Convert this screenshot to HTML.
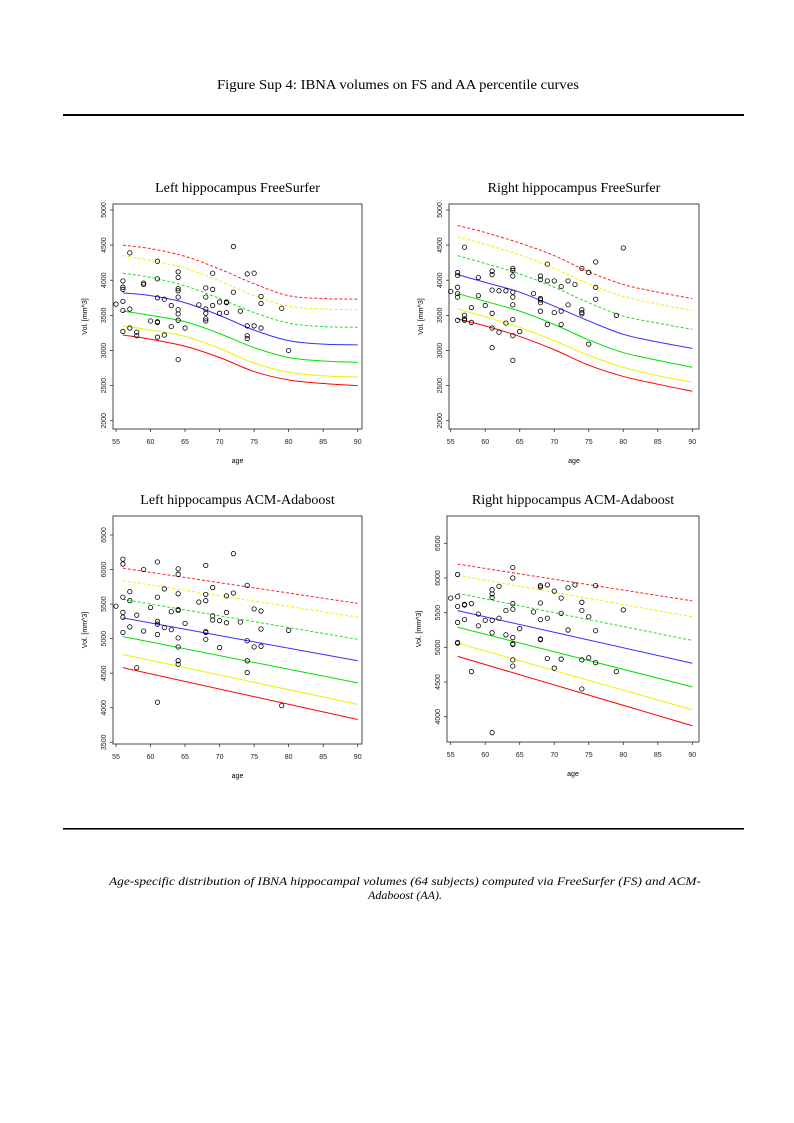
<!DOCTYPE html>
<html><head><meta charset="utf-8"><style>
html,body{margin:0;padding:0;background:#fff;}
svg{display:block;}
.serif{font-family:"Liberation Serif",serif;}
.sans{font-family:"Liberation Sans",sans-serif;}
</style></head><body>
<svg id="page" width="794" height="1123" viewBox="0 0 794 1123" xmlns="http://www.w3.org/2000/svg">
<text class="serif" x="398" y="89" text-anchor="middle" font-size="14" textLength="362" lengthAdjust="spacingAndGlyphs">Figure Sup 4: IBNA volumes on FS and AA percentile curves</text>
<rect x="63" y="114" width="681" height="2" fill="#000"/>
<rect x="63" y="828" width="681" height="1.6" fill="#000"/>
<text class="serif" x="405" y="885" text-anchor="middle" font-size="12" font-style="italic" textLength="592" lengthAdjust="spacingAndGlyphs">Age-specific distribution of IBNA hippocampal volumes (64 subjects) computed via FreeSurfer (FS) and ACM-</text>
<text class="serif" x="405" y="899" text-anchor="middle" font-size="12" font-style="italic">Adaboost (AA).</text>
</svg>
<script>
// ---- data ----
const curveAges = [56,60,65,70,75,80,85,90];
const xTicks = [55,60,65,70,75,80,85,90];
const ticksFS = [2000,2500,3000,3500,4000,4500,5000];
const ticksLA = [3500,4000,4500,5000,5500,6000,6500];
const ticksRA = [4000,4500,5000,5500,6000,6500];

const lfsAges = [55,56,56,56,56,56,56,57,57,57,58,58,59,59,60,61,61,61,61,61,61,62,62,63,63,64,64,64,64,64,64,64,64,64,65,67,68,68,68,68,68,68,69,69,69,70,70,71,71,71,72,72,73,74,74,74,74,75,75,76,76,76,79,80];
const lfsVols = [3660,3990,3900,3870,3700,3570,3270,4390,3590,3320,3260,3210,3960,3940,3420,4270,4020,3750,3410,3400,3190,3730,3220,3640,3340,4120,4040,3880,3850,3760,3580,3520,3430,2870,3320,3650,3890,3760,3590,3530,3450,3420,4100,3870,3640,3690,3530,3690,3680,3540,4480,3830,3560,4090,3350,3210,3170,4100,3350,3770,3670,3320,3600,3000];
const lfsRedDash = [4500,4450,4340,4160,3950,3780,3740,3730];
const lfsYelDash = [4350,4280,4170,3990,3780,3630,3590,3580];
const lfsGrnDash = [4100,4040,3920,3740,3540,3390,3340,3330];
const lfsBlue    = [3820,3780,3680,3500,3290,3140,3090,3080];
const lfsGrn     = [3560,3500,3410,3240,3040,2900,2850,2830];
const lfsYel     = [3350,3290,3200,3030,2820,2690,2640,2620];
const lfsRed     = [3220,3160,3060,2900,2700,2580,2530,2500];

const rfsAges = [55,56,56,56,56,56,56,57,57,57,57,58,58,59,59,60,61,61,61,61,61,61,62,62,63,63,64,64,64,64,64,64,64,64,64,65,67,68,68,68,68,68,68,69,69,69,70,70,71,71,71,72,72,73,74,74,74,74,75,75,76,76,76,79,80];
const rfsVols = [3840,4110,4070,3900,3810,3760,3430,4470,3500,3450,3430,3610,3400,4040,3780,3640,4130,4080,3860,3530,3320,3040,3850,3260,3850,3390,4170,4140,4060,3830,3760,3650,3440,3210,2860,3270,3810,4060,4010,3740,3720,3680,3560,4230,3990,3370,3990,3540,3910,3560,3370,3990,3650,3940,4170,3580,3540,3520,4110,3090,4260,3900,3730,3500,4460];
const rfsRedDash = [4780,4680,4530,4350,4120,3940,3830,3740];
const rfsYelDash = [4620,4510,4360,4170,3950,3770,3660,3570];
const rfsGrnDash = [4350,4240,4090,3900,3680,3490,3390,3300];
const rfsBlue    = [4080,3970,3830,3630,3420,3230,3120,3030];
const rfsGrn     = [3810,3700,3560,3370,3150,2970,2860,2760];
const rfsYel     = [3590,3480,3330,3140,2930,2760,2640,2550];
const rfsRed     = [3450,3350,3200,3010,2790,2630,2520,2420];

const laaAges = [56,56,56,56,56,56,55,57,57,57,58,58,59,59,60,61,61,61,61,61,61,62,62,63,63,64,64,64,64,64,64,64,64,64,65,67,68,68,68,68,68,68,69,69,69,70,70,71,71,71,72,72,73,74,74,74,74,75,75,76,76,76,79,80];
const laaVols = [6150,6080,5600,5380,5310,5090,5470,5680,5550,5170,5340,4580,6000,5110,5450,6110,5600,5250,5210,5060,4080,5720,5160,5390,5130,6010,5930,5650,5420,5410,5010,4880,4680,4630,5220,5530,6060,5640,5550,5100,5090,4990,5740,5330,5270,5260,4870,5620,5380,5230,6230,5660,5240,5770,4970,4680,4510,5430,4880,5400,5140,4890,4030,5120];
const laaRedDash = [6020,5510];
const laaYelDash = [5840,5310];
const laaGrnDash = [5570,4990];
const laaBlue    = [5300,4680];
const laaGrn     = [5030,4360];
const laaYel     = [4770,4050];
const laaRed     = [4580,3830];

const raaAges = [55,56,56,56,56,56,56,57,57,57,58,58,59,59,60,61,61,61,61,61,61,62,62,63,63,64,64,64,64,64,64,64,64,64,65,67,68,68,68,68,68,68,69,69,69,70,70,71,71,71,72,72,73,74,74,74,74,75,75,76,76,76,79,80];
const raaVols = [5710,6050,5730,5590,5360,5070,5060,5620,5610,5400,5630,4650,5480,5310,5390,5830,5770,5720,5390,5210,3770,5880,5420,5530,5180,6150,6000,5630,5550,5140,5050,5040,4820,4730,5270,5510,5890,5870,5640,5400,5120,5110,5900,5420,4840,5810,4700,5710,5490,4830,5860,5250,5900,5650,5530,4820,4400,5440,4850,5890,5240,4780,4650,5540];
const raaRedDash = [6200,5670];
const raaYelDash = [6040,5440];
const raaGrnDash = [5780,5100];
const raaBlue    = [5530,4770];
const raaGrn     = [5290,4430];
const raaYel     = [5060,4100];
const raaRed     = [4870,3870];
const lineAges = [56,90];

// ---- drawing ----
const NS = "http://www.w3.org/2000/svg";
const svg = document.getElementById('page');
function mk(tag, parent){ const e=document.createElementNS(NS,tag); parent.appendChild(e); return e; }

function smoothPath(pts){
  if(pts.length===2) return `M${pts[0][0]},${pts[0][1]}L${pts[1][0]},${pts[1][1]}`;
  let d=`M${pts[0][0]},${pts[0][1]}`;
  for(let i=0;i<pts.length-1;i++){
    const p0=pts[Math.max(0,i-1)],p1=pts[i],p2=pts[i+1],p3=pts[Math.min(pts.length-1,i+2)];
    const c1=[p1[0]+(p2[0]-p0[0])/6,p1[1]+(p2[1]-p0[1])/6];
    const c2=[p2[0]-(p3[0]-p1[0])/6,p2[1]-(p3[1]-p1[1])/6];
    d+=`C${c1[0].toFixed(2)},${c1[1].toFixed(2)} ${c2[0].toFixed(2)},${c2[1].toFixed(2)} ${p2[0].toFixed(2)},${p2[1].toFixed(2)}`;
  }
  return d;
}

function panel(cfg){
  const g = mk('g', svg);
  
  
  const X = a => cfg.px0 + (a-55)*(cfg.px1-cfg.px0)/35;
  const Y = v => cfg.vy0 + (v-cfg.v0)*(cfg.vy1-cfg.vy0)/(cfg.v1-cfg.v0);
  const [bl,bt,br,bb]=cfg.box;

  const t = mk('text', g);
  
  
  t.setAttribute('class','serif'); t.setAttribute('x',(bl+br)/2); t.setAttribute('y',bt-12);
  t.setAttribute('text-anchor','middle'); t.setAttribute('font-size','14'); t.textContent=cfg.title;

  const r = mk('rect', g);
  
  
  r.setAttribute('x',bl); r.setAttribute('y',bt); r.setAttribute('width',br-bl); r.setAttribute('height',bb-bt);
  r.setAttribute('fill','none'); r.setAttribute('stroke','#333'); r.setAttribute('stroke-width','0.9');

  xTicks.forEach(a=>{
    const l=mk('line',g);
    
    
    l.setAttribute('x1',X(a)); l.setAttribute('x2',X(a)); l.setAttribute('y1',bb); l.setAttribute('y2',bb+3);
    l.setAttribute('stroke','#333'); l.setAttribute('stroke-width','0.8');
    const tx=mk('text',g);
    
    
    tx.setAttribute('class','sans'); tx.setAttribute('x',X(a)); tx.setAttribute('y',bb+15);
    tx.setAttribute('text-anchor','middle'); tx.setAttribute('font-size','7'); tx.setAttribute('fill','#222'); tx.textContent=a;
  });
  cfg.yTicks.forEach(v=>{
    const l=mk('line',g);
    
    
    l.setAttribute('x1',bl-3); l.setAttribute('x2',bl); l.setAttribute('y1',Y(v)); l.setAttribute('y2',Y(v));
    l.setAttribute('stroke','#333'); l.setAttribute('stroke-width','0.8');
    const tx=mk('text',g);
    
    
    const lx=bl-7, ly=Y(v);
    tx.setAttribute('class','sans'); tx.setAttribute('x',lx); tx.setAttribute('y',ly);
    tx.setAttribute('transform',`rotate(-90 ${lx} ${ly})`);
    tx.setAttribute('text-anchor','middle'); tx.setAttribute('font-size','7'); tx.setAttribute('fill','#222'); tx.textContent=v;
  });
  const xl=mk('text',g);
  
  
  xl.setAttribute('class','sans'); xl.setAttribute('x',(bl+br)/2); xl.setAttribute('y',bb+34);
  xl.setAttribute('text-anchor','middle'); xl.setAttribute('font-size','7'); xl.textContent='age';
  const yl=mk('text',g);
  
  
  const yx=bl-26, yy=(bt+bb)/2;
  yl.setAttribute('class','sans'); yl.setAttribute('x',yx); yl.setAttribute('y',yy);
  yl.setAttribute('transform',`rotate(-90 ${yx} ${yy})`);
  yl.setAttribute('text-anchor','middle'); yl.setAttribute('font-size','7'); yl.textContent='Vol. [mm^3]';

  cfg.curves.forEach(c=>{
    const pts=c.vals.map((v,i)=>[X(cfg.cAges[i]),Y(v)]);
    const p=mk('path',g);
    
    
    p.setAttribute('d',smoothPath(pts)); p.setAttribute('fill','none');
    p.setAttribute('stroke',c.color); p.setAttribute('stroke-width','1');
    if(c.dash) p.setAttribute('stroke-dasharray','3,2');
  });
  cfg.ages.forEach((a,i)=>{
    const c=mk('circle',g);
    
    
    c.setAttribute('cx',X(a)); c.setAttribute('cy',Y(cfg.vols[i])); c.setAttribute('r','2.2');
    c.setAttribute('fill','none'); c.setAttribute('stroke','#000'); c.setAttribute('stroke-width','0.8');
  });
}
function curveSet(rd,yd,gd,b,gr,ye,re){
  return [
    {name:'p97-curve',vals:rd,color:'#ff2020',dash:true},
    {name:'p90-curve',vals:yd,color:'#f0f000',dash:true},
    {name:'p75-curve',vals:gd,color:'#20e020',dash:true},
    {name:'median-curve',vals:b,color:'#3030ff',dash:false},
    {name:'p25-curve',vals:gr,color:'#00e000',dash:false},
    {name:'p10-curve',vals:ye,color:'#f0f000',dash:false},
    {name:'p3-curve',vals:re,color:'#ff0000',dash:false}
  ];
}
panel({name:'left-freesurfer-panel',title:'Left hippocampus FreeSurfer',box:[113,204,362,429],px0:116,px1:357.7,v0:5000,vy0:210,v1:2000,vy1:420.7,yTicks:ticksFS,ages:lfsAges,vols:lfsVols,cAges:curveAges,curves:curveSet(lfsRedDash,lfsYelDash,lfsGrnDash,lfsBlue,lfsGrn,lfsYel,lfsRed)});
panel({name:'right-freesurfer-panel',title:'Right hippocampus FreeSurfer',box:[449,204,699,429],px0:450.7,px1:692.3,v0:5000,vy0:210,v1:2000,vy1:420.7,yTicks:ticksFS,ages:rfsAges,vols:rfsVols,cAges:curveAges,curves:curveSet(rfsRedDash,rfsYelDash,rfsGrnDash,rfsBlue,rfsGrn,rfsYel,rfsRed)});
panel({name:'left-adaboost-panel',title:'Left hippocampus ACM-Adaboost',box:[113,516,362,744],px0:116,px1:357.7,v0:6500,vy0:535,v1:3500,vy1:742.3,yTicks:ticksLA,ages:laaAges,vols:laaVols,cAges:lineAges,curves:curveSet(laaRedDash,laaYelDash,laaGrnDash,laaBlue,laaGrn,laaYel,laaRed)});
panel({name:'right-adaboost-panel',title:'Right hippocampus ACM-Adaboost',box:[447,516,699,742],px0:450.7,px1:692.3,v0:6500,vy0:543.3,v1:4000,vy1:716.7,yTicks:ticksRA,ages:raaAges,vols:raaVols,cAges:lineAges,curves:curveSet(raaRedDash,raaYelDash,raaGrnDash,raaBlue,raaGrn,raaYel,raaRed)});
</script>
</body></html>
